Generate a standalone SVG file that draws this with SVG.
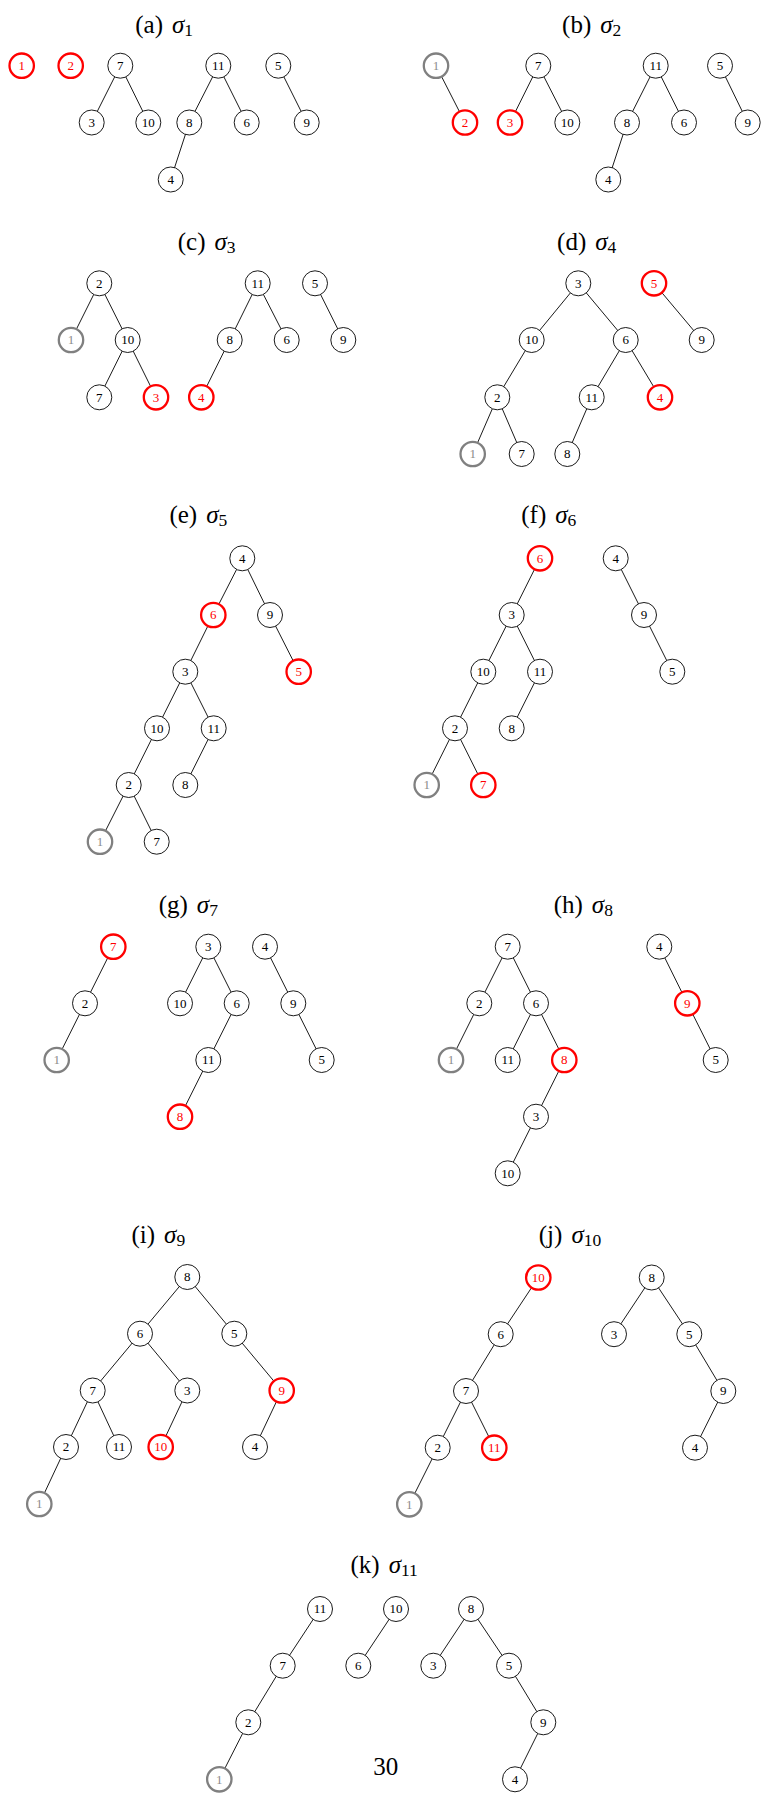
<svg xmlns="http://www.w3.org/2000/svg" width="761" height="1794" viewBox="0 0 761 1794">
<style>
.n circle{fill:#fff;stroke:#000;stroke-width:0.9}
.n text{font-family:"Liberation Serif",serif;font-size:13px;text-anchor:middle;fill:#000}
.r circle{stroke:#f00;stroke-width:2.3}
.r text{fill:#f00}
.g circle{stroke:#808080;stroke-width:2.3}
.g text{fill:#8c8c8c}
.e line{stroke:#000;stroke-width:0.9}
.t{font-family:"Liberation Serif",serif;font-size:25px;text-anchor:middle;fill:#000}
.t .s{font-style:italic}
.t .b{font-size:17.5px}
.pg{font-family:"Liberation Serif",serif;font-size:25px;text-anchor:middle;fill:#000}
</style>
<rect width="761" height="1794" fill="#fff"/>

<!-- (a) -->
<g id="panel-a">
<text class="t" x="164.2" y="33.3">(a)<tspan class="s" dx="9">σ</tspan><tspan class="b" dy="3">1</tspan></text>
<g id="a-edges" class="e">
<line x1="120.3" y1="65.7" x2="91.7" y2="122.5"/><line x1="120.3" y1="65.7" x2="148.3" y2="122.5"/>
<line x1="218.3" y1="65.7" x2="189.3" y2="122.5"/><line x1="218.3" y1="65.7" x2="246.7" y2="122.5"/>
<line x1="189.3" y1="122.5" x2="170.7" y2="179.5"/><line x1="278.3" y1="65.7" x2="306.7" y2="122.5"/>
</g>
<g id="a-1" class="n r"><circle cx="21.7" cy="65.7" r="12.2"/><text x="21.7" y="70.1">1</text></g>
<g id="a-2" class="n r"><circle cx="70.7" cy="65.7" r="12.2"/><text x="70.7" y="70.1">2</text></g>
<g id="a-7" class="n"><circle cx="120.3" cy="65.7" r="12.5"/><text x="120.3" y="70.1">7</text></g>
<g id="a-3" class="n"><circle cx="91.7" cy="122.5" r="12.5"/><text x="91.7" y="126.9">3</text></g>
<g id="a-10" class="n"><circle cx="148.3" cy="122.5" r="12.5"/><text x="148.3" y="126.9">10</text></g>
<g id="a-11" class="n"><circle cx="218.3" cy="65.7" r="12.5"/><text x="218.3" y="70.1">11</text></g>
<g id="a-8" class="n"><circle cx="189.3" cy="122.5" r="12.5"/><text x="189.3" y="126.9">8</text></g>
<g id="a-6" class="n"><circle cx="246.7" cy="122.5" r="12.5"/><text x="246.7" y="126.9">6</text></g>
<g id="a-4" class="n"><circle cx="170.7" cy="179.5" r="12.5"/><text x="170.7" y="183.9">4</text></g>
<g id="a-5" class="n"><circle cx="278.3" cy="65.7" r="12.5"/><text x="278.3" y="70.1">5</text></g>
<g id="a-9" class="n"><circle cx="306.7" cy="122.5" r="12.5"/><text x="306.7" y="126.9">9</text></g>
</g>

<!-- (b) -->
<g id="panel-b">
<text class="t" x="591.7" y="33.3">(b)<tspan class="s" dx="9">σ</tspan><tspan class="b" dy="3">2</tspan></text>
<g id="b-edges" class="e">
<line x1="436" y1="65.7" x2="465" y2="122.5"/>
<line x1="538.3" y1="65.7" x2="510" y2="122.5"/><line x1="538.3" y1="65.7" x2="567.3" y2="122.5"/>
<line x1="655.7" y1="65.7" x2="627" y2="122.5"/><line x1="655.7" y1="65.7" x2="684" y2="122.5"/>
<line x1="627" y1="122.5" x2="608.3" y2="179.5"/><line x1="720" y1="65.7" x2="747.7" y2="122.5"/>
</g>
<g id="b-1" class="n g"><circle cx="436" cy="65.7" r="12.2"/><text x="436" y="70.1">1</text></g>
<g id="b-2" class="n r"><circle cx="465" cy="122.5" r="12.2"/><text x="465" y="126.9">2</text></g>
<g id="b-3" class="n r"><circle cx="510" cy="122.5" r="12.2"/><text x="510" y="126.9">3</text></g>
<g id="b-7" class="n"><circle cx="538.3" cy="65.7" r="12.5"/><text x="538.3" y="70.1">7</text></g>
<g id="b-10" class="n"><circle cx="567.3" cy="122.5" r="12.5"/><text x="567.3" y="126.9">10</text></g>
<g id="b-11" class="n"><circle cx="655.7" cy="65.7" r="12.5"/><text x="655.7" y="70.1">11</text></g>
<g id="b-8" class="n"><circle cx="627" cy="122.5" r="12.5"/><text x="627" y="126.9">8</text></g>
<g id="b-6" class="n"><circle cx="684" cy="122.5" r="12.5"/><text x="684" y="126.9">6</text></g>
<g id="b-4" class="n"><circle cx="608.3" cy="179.5" r="12.5"/><text x="608.3" y="183.9">4</text></g>
<g id="b-5" class="n"><circle cx="720" cy="65.7" r="12.5"/><text x="720" y="70.1">5</text></g>
<g id="b-9" class="n"><circle cx="747.7" cy="122.5" r="12.5"/><text x="747.7" y="126.9">9</text></g>
</g>

<!-- (c) -->
<g id="panel-c">
<text class="t" x="206.7" y="250">(c)<tspan class="s" dx="9">σ</tspan><tspan class="b" dy="3">3</tspan></text>
<g id="c-edges" class="e">
<line x1="99.3" y1="283.3" x2="71" y2="340"/><line x1="99.3" y1="283.3" x2="127.7" y2="340"/>
<line x1="127.7" y1="340" x2="99.3" y2="397.3"/><line x1="127.7" y1="340" x2="156" y2="397.3"/>
<line x1="257.7" y1="283.3" x2="229.7" y2="340"/><line x1="257.7" y1="283.3" x2="286.7" y2="340"/>
<line x1="229.7" y1="340" x2="201.3" y2="397.3"/><line x1="315" y1="283.3" x2="343.3" y2="340"/>
</g>
<g id="c-2" class="n"><circle cx="99.3" cy="283.3" r="12.5"/><text x="99.3" y="287.7">2</text></g>
<g id="c-1" class="n g"><circle cx="71" cy="340" r="12.2"/><text x="71" y="344.4">1</text></g>
<g id="c-10" class="n"><circle cx="127.7" cy="340" r="12.5"/><text x="127.7" y="344.4">10</text></g>
<g id="c-7" class="n"><circle cx="99.3" cy="397.3" r="12.5"/><text x="99.3" y="401.7">7</text></g>
<g id="c-3" class="n r"><circle cx="156" cy="397.3" r="12.2"/><text x="156" y="401.7">3</text></g>
<g id="c-4" class="n r"><circle cx="201.3" cy="397.3" r="12.2"/><text x="201.3" y="401.7">4</text></g>
<g id="c-11" class="n"><circle cx="257.7" cy="283.3" r="12.5"/><text x="257.7" y="287.7">11</text></g>
<g id="c-8" class="n"><circle cx="229.7" cy="340" r="12.5"/><text x="229.7" y="344.4">8</text></g>
<g id="c-6" class="n"><circle cx="286.7" cy="340" r="12.5"/><text x="286.7" y="344.4">6</text></g>
<g id="c-5" class="n"><circle cx="315" cy="283.3" r="12.5"/><text x="315" y="287.7">5</text></g>
<g id="c-9" class="n"><circle cx="343.3" cy="340" r="12.5"/><text x="343.3" y="344.4">9</text></g>
</g>

<!-- (d) -->
<g id="panel-d">
<text class="t" x="586.7" y="250">(d)<tspan class="s" dx="9">σ</tspan><tspan class="b" dy="3">4</tspan></text>
<g id="d-edges" class="e">
<line x1="578.3" y1="283.3" x2="531.7" y2="340"/><line x1="578.3" y1="283.3" x2="625.7" y2="340"/>
<line x1="531.7" y1="340" x2="497.3" y2="397.3"/><line x1="497.3" y1="397.3" x2="472.7" y2="454"/>
<line x1="497.3" y1="397.3" x2="521.7" y2="454"/><line x1="625.7" y1="340" x2="591.7" y2="397.3"/>
<line x1="625.7" y1="340" x2="660" y2="397.3"/><line x1="591.7" y1="397.3" x2="567.3" y2="454"/>
<line x1="654" y1="283.3" x2="701.7" y2="340"/>
</g>
<g id="d-3" class="n"><circle cx="578.3" cy="283.3" r="12.5"/><text x="578.3" y="287.7">3</text></g>
<g id="d-5" class="n r"><circle cx="654" cy="283.3" r="12.2"/><text x="654" y="287.7">5</text></g>
<g id="d-10" class="n"><circle cx="531.7" cy="340" r="12.5"/><text x="531.7" y="344.4">10</text></g>
<g id="d-6" class="n"><circle cx="625.7" cy="340" r="12.5"/><text x="625.7" y="344.4">6</text></g>
<g id="d-9" class="n"><circle cx="701.7" cy="340" r="12.5"/><text x="701.7" y="344.4">9</text></g>
<g id="d-2" class="n"><circle cx="497.3" cy="397.3" r="12.5"/><text x="497.3" y="401.7">2</text></g>
<g id="d-11" class="n"><circle cx="591.7" cy="397.3" r="12.5"/><text x="591.7" y="401.7">11</text></g>
<g id="d-4" class="n r"><circle cx="660" cy="397.3" r="12.2"/><text x="660" y="401.7">4</text></g>
<g id="d-1" class="n g"><circle cx="472.7" cy="454" r="12.2"/><text x="472.7" y="458.4">1</text></g>
<g id="d-7" class="n"><circle cx="521.7" cy="454" r="12.5"/><text x="521.7" y="458.4">7</text></g>
<g id="d-8" class="n"><circle cx="567.3" cy="454" r="12.5"/><text x="567.3" y="458.4">8</text></g>
</g>

<!-- (e) -->
<g id="panel-e">
<text class="t" x="198.3" y="523.3">(e)<tspan class="s" dx="9">σ</tspan><tspan class="b" dy="3">5</tspan></text>
<g id="e-edges" class="e">
<line x1="242.3" y1="558.3" x2="213.3" y2="615"/><line x1="242.3" y1="558.3" x2="270" y2="615"/>
<line x1="213.3" y1="615" x2="185.3" y2="671.7"/><line x1="270" y1="615" x2="298.7" y2="671.7"/>
<line x1="185.3" y1="671.7" x2="157" y2="728.3"/><line x1="185.3" y1="671.7" x2="213.7" y2="728.3"/>
<line x1="157" y1="728.3" x2="128.7" y2="785"/><line x1="213.7" y1="728.3" x2="185.3" y2="785"/>
<line x1="128.7" y1="785" x2="100" y2="841.7"/><line x1="128.7" y1="785" x2="156.7" y2="841.7"/>
</g>
<g id="e-4" class="n"><circle cx="242.3" cy="558.3" r="12.5"/><text x="242.3" y="562.7">4</text></g>
<g id="e-6" class="n r"><circle cx="213.3" cy="615" r="12.2"/><text x="213.3" y="619.4">6</text></g>
<g id="e-9" class="n"><circle cx="270" cy="615" r="12.5"/><text x="270" y="619.4">9</text></g>
<g id="e-3" class="n"><circle cx="185.3" cy="671.7" r="12.5"/><text x="185.3" y="676.1">3</text></g>
<g id="e-5" class="n r"><circle cx="298.7" cy="671.7" r="12.2"/><text x="298.7" y="676.1">5</text></g>
<g id="e-10" class="n"><circle cx="157" cy="728.3" r="12.5"/><text x="157" y="732.7">10</text></g>
<g id="e-11" class="n"><circle cx="213.7" cy="728.3" r="12.5"/><text x="213.7" y="732.7">11</text></g>
<g id="e-2" class="n"><circle cx="128.7" cy="785" r="12.5"/><text x="128.7" y="789.4">2</text></g>
<g id="e-8" class="n"><circle cx="185.3" cy="785" r="12.5"/><text x="185.3" y="789.4">8</text></g>
<g id="e-1" class="n g"><circle cx="100" cy="841.7" r="12.2"/><text x="100" y="846.1">1</text></g>
<g id="e-7" class="n"><circle cx="156.7" cy="841.7" r="12.5"/><text x="156.7" y="846.1">7</text></g>
</g>

<!-- (f) -->
<g id="panel-f">
<text class="t" x="548.8" y="523.3">(f)<tspan class="s" dx="9">σ</tspan><tspan class="b" dy="3">6</tspan></text>
<g id="f-edges" class="e">
<line x1="540" y1="558.3" x2="511.7" y2="615"/><line x1="511.7" y1="615" x2="483.3" y2="671.7"/>
<line x1="511.7" y1="615" x2="540" y2="671.7"/><line x1="483.3" y1="671.7" x2="455" y2="728.3"/>
<line x1="540" y1="671.7" x2="511.7" y2="728.3"/><line x1="455" y1="728.3" x2="426.7" y2="785"/>
<line x1="455" y1="728.3" x2="483.3" y2="785"/><line x1="615.7" y1="558.3" x2="644" y2="615"/>
<line x1="644" y1="615" x2="672.3" y2="671.7"/>
</g>
<g id="f-6" class="n r"><circle cx="540" cy="558.3" r="12.2"/><text x="540" y="562.7">6</text></g>
<g id="f-4" class="n"><circle cx="615.7" cy="558.3" r="12.5"/><text x="615.7" y="562.7">4</text></g>
<g id="f-3" class="n"><circle cx="511.7" cy="615" r="12.5"/><text x="511.7" y="619.4">3</text></g>
<g id="f-9" class="n"><circle cx="644" cy="615" r="12.5"/><text x="644" y="619.4">9</text></g>
<g id="f-10" class="n"><circle cx="483.3" cy="671.7" r="12.5"/><text x="483.3" y="676.1">10</text></g>
<g id="f-11" class="n"><circle cx="540" cy="671.7" r="12.5"/><text x="540" y="676.1">11</text></g>
<g id="f-5" class="n"><circle cx="672.3" cy="671.7" r="12.5"/><text x="672.3" y="676.1">5</text></g>
<g id="f-2" class="n"><circle cx="455" cy="728.3" r="12.5"/><text x="455" y="732.7">2</text></g>
<g id="f-8" class="n"><circle cx="511.7" cy="728.3" r="12.5"/><text x="511.7" y="732.7">8</text></g>
<g id="f-1" class="n g"><circle cx="426.7" cy="785" r="12.2"/><text x="426.7" y="789.4">1</text></g>
<g id="f-7" class="n r"><circle cx="483.3" cy="785" r="12.2"/><text x="483.3" y="789.4">7</text></g>
</g>

<!-- (g) -->
<g id="panel-g">
<text class="t" x="188.3" y="912.7">(g)<tspan class="s" dx="9">σ</tspan><tspan class="b" dy="3">7</tspan></text>
<g id="g-edges" class="e">
<line x1="113.3" y1="946.7" x2="85" y2="1003.3"/><line x1="85" y1="1003.3" x2="56.7" y2="1060"/>
<line x1="208.3" y1="946.7" x2="180" y2="1003.3"/><line x1="208.3" y1="946.7" x2="236.7" y2="1003.3"/>
<line x1="236.7" y1="1003.3" x2="208.3" y2="1060"/><line x1="208.3" y1="1060" x2="180" y2="1116.7"/>
<line x1="265" y1="946.7" x2="293.3" y2="1003.3"/><line x1="293.3" y1="1003.3" x2="321.7" y2="1060"/>
</g>
<g id="g-7" class="n r"><circle cx="113.3" cy="946.7" r="12.2"/><text x="113.3" y="951.1">7</text></g>
<g id="g-2" class="n"><circle cx="85" cy="1003.3" r="12.5"/><text x="85" y="1007.7">2</text></g>
<g id="g-1" class="n g"><circle cx="56.7" cy="1060" r="12.2"/><text x="56.7" y="1064.4">1</text></g>
<g id="g-3" class="n"><circle cx="208.3" cy="946.7" r="12.5"/><text x="208.3" y="951.1">3</text></g>
<g id="g-10" class="n"><circle cx="180" cy="1003.3" r="12.5"/><text x="180" y="1007.7">10</text></g>
<g id="g-6" class="n"><circle cx="236.7" cy="1003.3" r="12.5"/><text x="236.7" y="1007.7">6</text></g>
<g id="g-11" class="n"><circle cx="208.3" cy="1060" r="12.5"/><text x="208.3" y="1064.4">11</text></g>
<g id="g-8" class="n r"><circle cx="180" cy="1116.7" r="12.2"/><text x="180" y="1121.1">8</text></g>
<g id="g-4" class="n"><circle cx="265" cy="946.7" r="12.5"/><text x="265" y="951.1">4</text></g>
<g id="g-9" class="n"><circle cx="293.3" cy="1003.3" r="12.5"/><text x="293.3" y="1007.7">9</text></g>
<g id="g-5" class="n"><circle cx="321.7" cy="1060" r="12.5"/><text x="321.7" y="1064.4">5</text></g>
</g>

<!-- (h) -->
<g id="panel-h">
<text class="t" x="583.3" y="912.7">(h)<tspan class="s" dx="9">σ</tspan><tspan class="b" dy="3">8</tspan></text>
<g id="h-edges" class="e">
<line x1="507.7" y1="946.7" x2="479.3" y2="1003.3"/><line x1="507.7" y1="946.7" x2="536" y2="1003.3"/>
<line x1="479.3" y1="1003.3" x2="451" y2="1060"/><line x1="536" y1="1003.3" x2="507.7" y2="1060"/>
<line x1="536" y1="1003.3" x2="564.3" y2="1060"/><line x1="564.3" y1="1060" x2="536" y2="1116.7"/>
<line x1="536" y1="1116.7" x2="507.7" y2="1173.3"/><line x1="659.3" y1="946.7" x2="687.3" y2="1003.3"/>
<line x1="687.3" y1="1003.3" x2="715.7" y2="1060"/>
</g>
<g id="h-7" class="n"><circle cx="507.7" cy="946.7" r="12.5"/><text x="507.7" y="951.1">7</text></g>
<g id="h-2" class="n"><circle cx="479.3" cy="1003.3" r="12.5"/><text x="479.3" y="1007.7">2</text></g>
<g id="h-6" class="n"><circle cx="536" cy="1003.3" r="12.5"/><text x="536" y="1007.7">6</text></g>
<g id="h-1" class="n g"><circle cx="451" cy="1060" r="12.2"/><text x="451" y="1064.4">1</text></g>
<g id="h-11" class="n"><circle cx="507.7" cy="1060" r="12.5"/><text x="507.7" y="1064.4">11</text></g>
<g id="h-8" class="n r"><circle cx="564.3" cy="1060" r="12.2"/><text x="564.3" y="1064.4">8</text></g>
<g id="h-3" class="n"><circle cx="536" cy="1116.7" r="12.5"/><text x="536" y="1121.1">3</text></g>
<g id="h-10" class="n"><circle cx="507.7" cy="1173.3" r="12.5"/><text x="507.7" y="1177.7">10</text></g>
<g id="h-4" class="n"><circle cx="659.3" cy="946.7" r="12.5"/><text x="659.3" y="951.1">4</text></g>
<g id="h-9" class="n r"><circle cx="687.3" cy="1003.3" r="12.2"/><text x="687.3" y="1007.7">9</text></g>
<g id="h-5" class="n"><circle cx="715.7" cy="1060" r="12.5"/><text x="715.7" y="1064.4">5</text></g>
</g>

<!-- (i) -->
<g id="panel-i">
<text class="t" x="158.3" y="1242.7">(i)<tspan class="s" dx="9">σ</tspan><tspan class="b" dy="3">9</tspan></text>
<g id="i-edges" class="e">
<line x1="187.3" y1="1277" x2="140" y2="1333.7"/><line x1="187.3" y1="1277" x2="234.3" y2="1333.7"/>
<line x1="140" y1="1333.7" x2="92.7" y2="1390.5"/><line x1="140" y1="1333.7" x2="187.3" y2="1390.5"/>
<line x1="234.3" y1="1333.7" x2="281.7" y2="1390.5"/><line x1="92.7" y1="1390.5" x2="66" y2="1447"/>
<line x1="92.7" y1="1390.5" x2="119" y2="1447"/><line x1="187.3" y1="1390.5" x2="160.7" y2="1447"/>
<line x1="281.7" y1="1390.5" x2="255" y2="1447"/><line x1="66" y1="1447" x2="39.3" y2="1504"/>
</g>
<g id="i-8" class="n"><circle cx="187.3" cy="1277" r="12.5"/><text x="187.3" y="1281.4">8</text></g>
<g id="i-6" class="n"><circle cx="140" cy="1333.7" r="12.5"/><text x="140" y="1338.1">6</text></g>
<g id="i-5" class="n"><circle cx="234.3" cy="1333.7" r="12.5"/><text x="234.3" y="1338.1">5</text></g>
<g id="i-7" class="n"><circle cx="92.7" cy="1390.5" r="12.5"/><text x="92.7" y="1394.9">7</text></g>
<g id="i-3" class="n"><circle cx="187.3" cy="1390.5" r="12.5"/><text x="187.3" y="1394.9">3</text></g>
<g id="i-9" class="n r"><circle cx="281.7" cy="1390.5" r="12.2"/><text x="281.7" y="1394.9">9</text></g>
<g id="i-2" class="n"><circle cx="66" cy="1447" r="12.5"/><text x="66" y="1451.4">2</text></g>
<g id="i-11" class="n"><circle cx="119" cy="1447" r="12.5"/><text x="119" y="1451.4">11</text></g>
<g id="i-10" class="n r"><circle cx="160.7" cy="1447" r="12.2"/><text x="160.7" y="1451.4">10</text></g>
<g id="i-4" class="n"><circle cx="255" cy="1447" r="12.5"/><text x="255" y="1451.4">4</text></g>
<g id="i-1" class="n g"><circle cx="39.3" cy="1504" r="12.2"/><text x="39.3" y="1508.4">1</text></g>
</g>

<!-- (j) -->
<g id="panel-j">
<text class="t" x="570" y="1242.7">(j)<tspan class="s" dx="9">σ</tspan><tspan class="b" dy="3">10</tspan></text>
<g id="j-edges" class="e">
<line x1="538.3" y1="1277.5" x2="500.7" y2="1334.2"/><line x1="500.7" y1="1334.2" x2="466" y2="1391"/>
<line x1="466" y1="1391" x2="437.7" y2="1447.7"/><line x1="466" y1="1391" x2="494.3" y2="1447.7"/>
<line x1="437.7" y1="1447.7" x2="409.3" y2="1504.3"/><line x1="651.7" y1="1277.5" x2="614" y2="1334.2"/>
<line x1="651.7" y1="1277.5" x2="689.3" y2="1334.2"/><line x1="689.3" y1="1334.2" x2="723.3" y2="1391"/>
<line x1="723.3" y1="1391" x2="695" y2="1447.7"/>
</g>
<g id="j-10" class="n r"><circle cx="538.3" cy="1277.5" r="12.2"/><text x="538.3" y="1281.9">10</text></g>
<g id="j-6" class="n"><circle cx="500.7" cy="1334.2" r="12.5"/><text x="500.7" y="1338.6">6</text></g>
<g id="j-7" class="n"><circle cx="466" cy="1391" r="12.5"/><text x="466" y="1395.4">7</text></g>
<g id="j-2" class="n"><circle cx="437.7" cy="1447.7" r="12.5"/><text x="437.7" y="1452.1">2</text></g>
<g id="j-11" class="n r"><circle cx="494.3" cy="1447.7" r="12.2"/><text x="494.3" y="1452.1">11</text></g>
<g id="j-1" class="n g"><circle cx="409.3" cy="1504.3" r="12.2"/><text x="409.3" y="1508.7">1</text></g>
<g id="j-8" class="n"><circle cx="651.7" cy="1277.5" r="12.5"/><text x="651.7" y="1281.9">8</text></g>
<g id="j-3" class="n"><circle cx="614" cy="1334.2" r="12.5"/><text x="614" y="1338.6">3</text></g>
<g id="j-5" class="n"><circle cx="689.3" cy="1334.2" r="12.5"/><text x="689.3" y="1338.6">5</text></g>
<g id="j-9" class="n"><circle cx="723.3" cy="1391" r="12.5"/><text x="723.3" y="1395.4">9</text></g>
<g id="j-4" class="n"><circle cx="695" cy="1447.7" r="12.5"/><text x="695" y="1452.1">4</text></g>
</g>

<!-- (k) -->
<g id="panel-k">
<text class="t" x="384.2" y="1573.3">(k)<tspan class="s" dx="9">σ</tspan><tspan class="b" dy="3">11</tspan></text>
<g id="k-edges" class="e">
<line x1="320" y1="1609" x2="282.7" y2="1665.7"/><line x1="282.7" y1="1665.7" x2="248.3" y2="1722.3"/>
<line x1="248.3" y1="1722.3" x2="219.3" y2="1779.3"/><line x1="396" y1="1609" x2="358.3" y2="1665.7"/>
<line x1="471" y1="1609" x2="433.3" y2="1665.7"/><line x1="471" y1="1609" x2="509" y2="1665.7"/>
<line x1="509" y1="1665.7" x2="543.3" y2="1722.3"/><line x1="543.3" y1="1722.3" x2="515" y2="1779.3"/>
</g>
<g id="k-11" class="n"><circle cx="320" cy="1609" r="12.5"/><text x="320" y="1613.4">11</text></g>
<g id="k-7" class="n"><circle cx="282.7" cy="1665.7" r="12.5"/><text x="282.7" y="1670.1">7</text></g>
<g id="k-2" class="n"><circle cx="248.3" cy="1722.3" r="12.5"/><text x="248.3" y="1726.7">2</text></g>
<g id="k-1" class="n g"><circle cx="219.3" cy="1779.3" r="12.2"/><text x="219.3" y="1783.7">1</text></g>
<g id="k-10" class="n"><circle cx="396" cy="1609" r="12.5"/><text x="396" y="1613.4">10</text></g>
<g id="k-6" class="n"><circle cx="358.3" cy="1665.7" r="12.5"/><text x="358.3" y="1670.1">6</text></g>
<g id="k-8" class="n"><circle cx="471" cy="1609" r="12.5"/><text x="471" y="1613.4">8</text></g>
<g id="k-3" class="n"><circle cx="433.3" cy="1665.7" r="12.5"/><text x="433.3" y="1670.1">3</text></g>
<g id="k-5" class="n"><circle cx="509" cy="1665.7" r="12.5"/><text x="509" y="1670.1">5</text></g>
<g id="k-9" class="n"><circle cx="543.3" cy="1722.3" r="12.5"/><text x="543.3" y="1726.7">9</text></g>
<g id="k-4" class="n"><circle cx="515" cy="1779.3" r="12.5"/><text x="515" y="1783.7">4</text></g>
</g>

<text class="pg" x="385.8" y="1775">30</text>
</svg>
